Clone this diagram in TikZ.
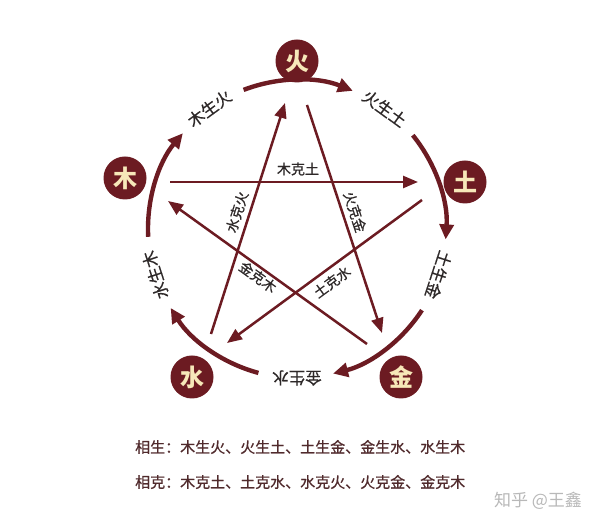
\documentclass[tikz,border=0pt]{standalone}
\usepackage{fontspec}
\newfontfamily\cjk{Noto Sans CJK SC}
\newfontfamily\cjkm{Noto Sans CJK SC}[FakeBold=0.6]
\usetikzlibrary{arrows.meta,calc}
\definecolor{maroon}{RGB}{108,27,34}
\definecolor{cream}{RGB}{247,232,185}
\definecolor{txt}{RGB}{45,40,40}
\definecolor{legend}{RGB}{80,42,44}
\tikzset{
  elem/.style={circle,fill=maroon,minimum size=43pt,inner sep=0pt,text=cream,font=\cjk\bfseries\fontsize{24}{24}\selectfont},
  cyc/.style={draw=maroon,line width=4.4pt,-{Triangle[length=15pt,width=14pt]}},
  ke/.style={draw=maroon,line width=2.5pt,-{Triangle[length=15pt,width=12pt]}},
  cyclabel/.style={text=txt,font=\cjkm\fontsize{16.5}{16.5}\selectfont,inner sep=0pt},
  kelabel/.style={text=txt,font=\cjkm\fontsize{14}{14}\selectfont,inner sep=0pt},
  legendtext/.style={text=legend,font=\cjkm\fontsize{15}{15}\selectfont,inner sep=0pt,anchor=west},
}
\begin{document}
\begin{tikzpicture}[x=1pt,y=1pt]
\fill[white] (0,0) rectangle (600,524);
\useasboundingbox (0,0) rectangle (600,524);
\coordinate (C) at (297,295);
% elements
\node[elem] (huo) at (297,463) {火};
\node[elem] (mu) at (125,346) {木};
\node[elem] (tu) at (465,342) {土};
\node[elem] (shui) at (192,147) {水};
\node[elem] (jin) at (401,147) {金};
% generating cycle arcs
\foreach \a in {90,18,-54,-126,162}{
  \draw[cyc] ($(C)+(\a+21:149)$) arc[start angle=\a+21, end angle=\a-22, radius=149];
}
% cycle labels
\node[cyclabel,rotate=-36] (l1) at ($(C)+(54:149)$) {火生土};
\node[cyclabel,rotate=36] (l2) at ($(C)+(126:149)$) {木生火};
\node[cyclabel,rotate=-108] (l3) at ($(C)+(-18:149)$) {土生金};
\node[cyclabel,rotate=180] (l4) at ($(C)+(-90:149)$) {金生水};
\node[cyclabel,rotate=108] (l5) at ($(C)+(198:149)$) {水生木};
% star endpoints
\coordinate (a1) at (170,342); \coordinate (a2) at (418,342);
\coordinate (b1) at (422,324); \coordinate (b2) at (227,181);
\coordinate (c1) at (211,190); \coordinate (c2) at (285,421);
\coordinate (d1) at (307,419); \coordinate (d2) at (382,191);
\coordinate (e1) at (367,180); \coordinate (e2) at (168,323);
\draw[ke] (a1) -- (a2);
\draw[ke] (b1) -- (b2);
\draw[ke] (c1) -- (c2);
\draw[ke] (d1) -- (d2);
\draw[ke] (e1) -- (e2);
% star labels
\node[kelabel] (k1) at (298,355) {木克土};
\node[kelabel,rotate=-71.8] (k2) at (355,312) {火克金};
\node[kelabel,rotate=72.2] (k3) at (237,312) {水克火};
\node[kelabel,rotate=-35.7] (k4) at (258,247) {金克木};
\node[kelabel,rotate=36.3] (k5) at (332,242) {土克水};
% legend
\node[legendtext] (g1) at (135,77) {相生：木生火、火生土、土生金、金生水、水生木};
\node[legendtext] (g2) at (135,42) {相克：木克土、土克水、水克火、火克金、金克木};
% watermark
\node[text=black!28,font=\cjk\fontsize{17}{17}\selectfont,inner sep=0pt] (wm) at (538,23) {知乎 @王鑫};
\end{tikzpicture}
\end{document}
